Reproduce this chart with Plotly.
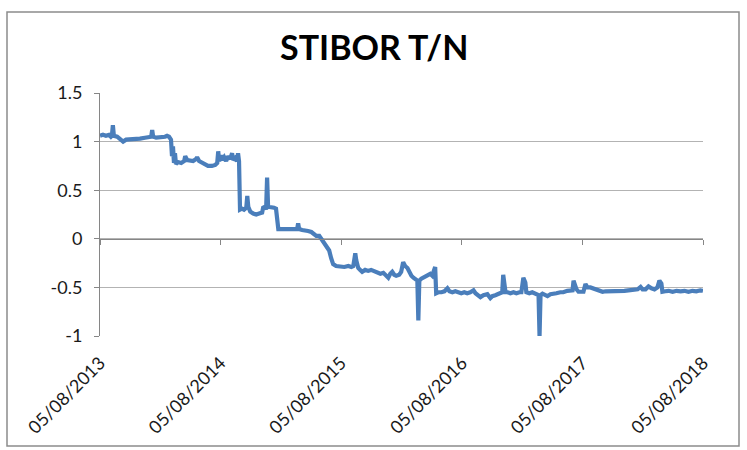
import plotly.graph_objects as go

dates = [
    "2013-08-05", "2013-08-14", "2013-08-23", "2013-09-01", "2013-09-07", "2013-09-10", "2013-09-13", "2013-09-16",
    "2013-09-26", "2013-10-05", "2013-10-14", "2013-10-23", "2013-11-04", "2013-11-19", "2013-12-04", "2013-12-19",
    "2014-01-04", "2014-01-07", "2014-01-10", "2014-01-13", "2014-01-22", "2014-02-03", "2014-02-18", "2014-02-24",
    "2014-03-02", "2014-03-08", "2014-03-11", "2014-03-14", "2014-03-17", "2014-03-20", "2014-03-23", "2014-03-29",
    "2014-04-08", "2014-04-17", "2014-04-20", "2014-04-26", "2014-05-05", "2014-05-14", "2014-05-23", "2014-05-26",
    "2014-06-01", "2014-06-10", "2014-06-19", "2014-06-28", "2014-07-10", "2014-07-20", "2014-07-26", "2014-07-29",
    "2014-08-01", "2014-08-07", "2014-08-10", "2014-08-16", "2014-08-22", "2014-08-28", "2014-09-03", "2014-09-09",
    "2014-09-12", "2014-09-18", "2014-09-24", "2014-09-27", "2014-09-30", "2014-10-03", "2014-10-09", "2014-10-15",
    "2014-10-22", "2014-10-25", "2014-10-28", "2014-11-03", "2014-11-12", "2014-11-21", "2014-11-30", "2014-12-09",
    "2014-12-12", "2014-12-18", "2014-12-21", "2014-12-24", "2014-12-27", "2015-01-05", "2015-01-14", "2015-01-20",
    "2015-01-23", "2015-01-27", "2015-02-08", "2015-02-20", "2015-03-04", "2015-03-16", "2015-03-25", "2015-03-28",
    "2015-03-31", "2015-04-09", "2015-04-18", "2015-04-27", "2015-05-07", "2015-05-16", "2015-05-22", "2015-05-31",
    "2015-06-06", "2015-06-12", "2015-06-18", "2015-06-24", "2015-06-30", "2015-07-06", "2015-07-12", "2015-07-21",
    "2015-08-02", "2015-08-15", "2015-08-27", "2015-09-05", "2015-09-11", "2015-09-17", "2015-09-20", "2015-09-26",
    "2015-10-02", "2015-10-08", "2015-10-17", "2015-10-26", "2015-11-04", "2015-11-13", "2015-11-23", "2015-12-02",
    "2015-12-11", "2015-12-20", "2015-12-26", "2016-01-01", "2016-01-07", "2016-01-13", "2016-01-19", "2016-01-28",
    "2016-02-03", "2016-02-09", "2016-02-15", "2016-02-22", "2016-02-28", "2016-03-05", "2016-03-11", "2016-03-17",
    "2016-03-23", "2016-03-26", "2016-03-29", "2016-04-04", "2016-04-10", "2016-04-19", "2016-04-25", "2016-05-01",
    "2016-05-07", "2016-05-13", "2016-05-16", "2016-05-19", "2016-05-25", "2016-06-04", "2016-06-13", "2016-06-22",
    "2016-06-28", "2016-07-07", "2016-07-16", "2016-07-25", "2016-08-03", "2016-08-12", "2016-08-21", "2016-08-30",
    "2016-09-09", "2016-09-15", "2016-09-24", "2016-09-30", "2016-10-09", "2016-10-15", "2016-10-21", "2016-10-30",
    "2016-11-05", "2016-11-14", "2016-11-23", "2016-11-29", "2016-12-05", "2016-12-08", "2016-12-12", "2016-12-15",
    "2016-12-21", "2016-12-30", "2017-01-08", "2017-01-17", "2017-01-26", "2017-02-01", "2017-02-07", "2017-02-13",
    "2017-02-16", "2017-02-25", "2017-03-06", "2017-03-15", "2017-03-25", "2017-03-28", "2017-03-31", "2017-04-06",
    "2017-04-15", "2017-04-21", "2017-04-30", "2017-05-09", "2017-05-18", "2017-05-30", "2017-06-08", "2017-06-20",
    "2017-06-30", "2017-07-06", "2017-07-09", "2017-07-18", "2017-07-24", "2017-08-02", "2017-08-08", "2017-08-14",
    "2017-08-20", "2017-08-29", "2017-09-07", "2017-09-16", "2017-09-25", "2017-10-05", "2017-10-14", "2017-10-23",
    "2017-11-01", "2017-11-10", "2017-11-19", "2017-11-28", "2017-12-10", "2017-12-22", "2017-12-31", "2018-01-10",
    "2018-01-19", "2018-01-28", "2018-02-03", "2018-02-12", "2018-02-21", "2018-03-02", "2018-03-11", "2018-03-20",
    "2018-03-26", "2018-04-01", "2018-04-04", "2018-04-13", "2018-04-23", "2018-05-05", "2018-05-17", "2018-05-29",
    "2018-06-10", "2018-06-22", "2018-07-04", "2018-07-16", "2018-07-28", "2018-08-05",
]

stibor_tn = [
    1.06, 1.07, 1.06, 1.07, 1.05, 1.06, 1.17, 1.06,
    1.05, 1.03, 1.00, 1.02, 1.02, 1.03, 1.03, 1.04,
    1.04, 1.05, 1.12, 1.05, 1.04, 1.04, 1.05, 1.06,
    1.05, 1.02, 0.85, 0.95, 0.78, 0.88, 0.77, 0.79,
    0.78, 0.80, 0.85, 0.81, 0.80, 0.80, 0.82, 0.84,
    0.80, 0.78, 0.77, 0.75, 0.75, 0.76, 0.78, 0.90,
    0.80, 0.86, 0.81, 0.84, 0.80, 0.85, 0.82, 0.88,
    0.81, 0.83, 0.80, 0.88, 0.80, 0.30, 0.31, 0.30,
    0.32, 0.44, 0.33, 0.28, 0.26, 0.25, 0.26, 0.27,
    0.32, 0.33, 0.30, 0.63, 0.33, 0.33, 0.32, 0.31,
    0.15, 0.10, 0.10, 0.10, 0.09, 0.09, 0.10, 0.16,
    0.10, 0.09, 0.09, 0.08, 0.07, 0.05, 0.03, 0.03,
    0.00, -0.02, -0.06, -0.08, -0.12, -0.20, -0.26, -0.28,
    -0.29, -0.29, -0.28, -0.29, -0.28, -0.15, -0.22, -0.30,
    -0.32, -0.34, -0.32, -0.33, -0.32, -0.33, -0.35, -0.36,
    -0.35, -0.38, -0.40, -0.36, -0.34, -0.37, -0.38, -0.37,
    -0.34, -0.24, -0.28, -0.30, -0.35, -0.38, -0.40, -0.42,
    -0.43, -0.84, -0.43, -0.41, -0.40, -0.38, -0.37, -0.36,
    -0.38, -0.33, -0.29, -0.56, -0.55, -0.55, -0.54, -0.51,
    -0.54, -0.55, -0.54, -0.55, -0.56, -0.55, -0.56, -0.55,
    -0.53, -0.56, -0.58, -0.60, -0.58, -0.58, -0.57, -0.61,
    -0.59, -0.58, -0.57, -0.565, -0.55, -0.37, -0.45, -0.55,
    -0.55, -0.56, -0.55, -0.56, -0.55, -0.55, -0.40, -0.45,
    -0.55, -0.56, -0.55, -0.57, -0.58, -1.00, -0.58, -0.565,
    -0.58, -0.59, -0.57, -0.56, -0.56, -0.55, -0.55, -0.535,
    -0.53, -0.53, -0.43, -0.52, -0.545, -0.54, -0.545, -0.465,
    -0.50, -0.50, -0.51, -0.52, -0.53, -0.545, -0.54, -0.54,
    -0.545, -0.54, -0.54, -0.545, -0.535, -0.53, -0.525, -0.52,
    -0.52, -0.495, -0.52, -0.52, -0.49, -0.51, -0.52, -0.50,
    -0.43, -0.46, -0.545, -0.54, -0.535, -0.545, -0.535, -0.54,
    -0.535, -0.545, -0.535, -0.54, -0.53, -0.535,
]

x_tick_dates = ["2013-08-05", "2014-08-05", "2015-08-05", "2016-08-05", "2017-08-05", "2018-08-05"]
x_tick_labels = ["05/08/2013", "05/08/2014", "05/08/2015", "05/08/2016", "05/08/2017", "05/08/2018"]
y_tick_vals = [-1, -0.5, 0, 0.5, 1, 1.5]
y_tick_labels = ["-1", "-0.5", "0", "0.5", "1", "1.5"]

FONT = "Lato"
W, H = 747, 450
ML, MR, MT, MB = 100, 44, 93, 114
PW, PH = W - ML - MR, H - MT - MB

def px_x(p):
    return (p - ML) / PW

def px_y(p):
    return (H - MB - p) / PH

fig = go.Figure()
fig.add_trace(go.Scatter(
    x=dates, y=stibor_tn, mode="lines",
    line=dict(color="#4A7EBB", width=4.2),
    showlegend=False, hoverinfo="x+y",
))
# invisible trace for the secondary (zero-crossing) x axis
fig.add_trace(go.Scatter(x=[dates[0], dates[-1]], y=[0, 0], xaxis="x2", mode="lines",
                         line=dict(width=0), showlegend=False, hoverinfo="skip"))

fig.update_layout(
    width=W, height=H,
    margin=dict(l=ML, r=MR, t=MT, b=MB, autoexpand=False),
    paper_bgcolor="white", plot_bgcolor="white",
    font=dict(family=FONT, size=18, color="#1a1a1a"),
    xaxis=dict(
        type="date", range=[x_tick_dates[0], x_tick_dates[-1]],
        tickmode="array", tickvals=x_tick_dates, ticktext=x_tick_labels,
        tickangle=-45, showgrid=False, zeroline=False, showline=False,
        ticks="", ticklabelstandoff=12, automargin=False,
        tickfont=dict(family=FONT, size=18, color="#1a1a1a"),
    ),
    xaxis2=dict(
        type="date", range=[x_tick_dates[0], x_tick_dates[-1]],
        overlaying="x", anchor="free", position=(0 - y_tick_vals[0]) / (y_tick_vals[-1] - y_tick_vals[0]),
        tickmode="array", tickvals=x_tick_dates, showticklabels=False,
        showgrid=False, zeroline=False, showline=True, linecolor="#868686", linewidth=1,
        ticks="outside", ticklen=5, tickcolor="#868686",
    ),
    yaxis=dict(
        range=[-1, 1.5], tickmode="array", tickvals=y_tick_vals, ticktext=y_tick_labels,
        showgrid=True, gridcolor="#B3B3B3", gridwidth=1, zeroline=False,
        showline=True, linecolor="#868686", linewidth=1,
        ticks="outside", ticklen=5, tickcolor="#868686", ticklabelstandoff=8, automargin=False,
        tickfont=dict(family=FONT, size=18, color="#1a1a1a"),
    ),
    annotations=[dict(
        text="<b>STIBOR T/N</b>", xref="paper", yref="paper",
        x=px_x(374), y=px_y(47), xanchor="center", yanchor="middle",
        showarrow=False, font=dict(family=FONT, size=34, color="#000000"),
    )],
    shapes=[dict(
        type="rect", xref="paper", yref="paper",
        x0=px_x(7), x1=px_x(739), y0=px_y(446), y1=px_y(12),
        line=dict(color="#8C8C8C", width=1.5), layer="below",
    )],
)

fig.write_html(
    "out.html",
    config={"displayModeBar": False},
    post_script="document.body.style.margin='0';document.body.style.padding='0';",
)
